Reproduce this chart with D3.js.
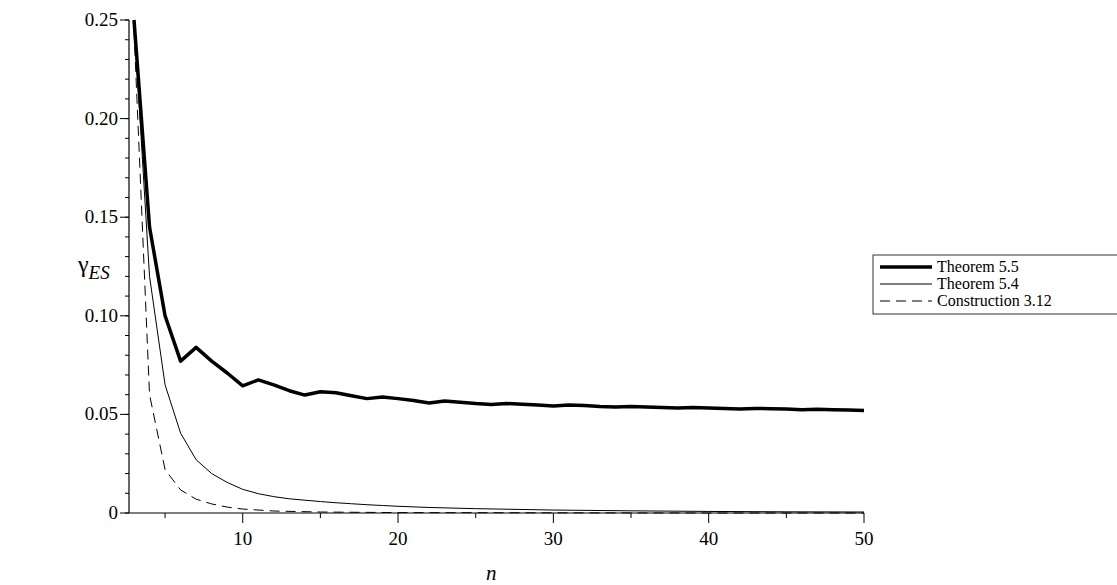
<!DOCTYPE html>
<html><head><meta charset="utf-8">
<script src="https://cdn.jsdelivr.net/npm/d3@7"></script>
<style>body{margin:0;background:#fff}</style>
</head><body><svg id="c" width="1117" height="585" font-family="'Liberation Serif', 'Times New Roman', 'DejaVu Serif', serif"></svg>
<script>
const nThm55 = d3.range(3,51);
const thm55 = [0.25,0.145,0.10,0.077,0.084,0.077,0.071,0.0645,0.0675,0.065,0.062,0.0598,0.0615,0.061,0.0595,0.058,0.0588,0.058,0.057,0.0558,0.0568,0.0562,0.0555,0.055,0.0555,0.0552,0.0548,0.0543,0.0548,0.0545,0.054,0.0537,0.054,0.0538,0.0535,0.0533,0.0535,0.0533,0.053,0.0528,0.053,0.0529,0.0527,0.0524,0.0526,0.0524,0.0522,0.052];
const nThm54 = [3,4,5,6,7,8,9,10,11,12,13,14,15,16,17,18,19,20,22,25,30,35,40,45,50];
const thm54 = [0.25,0.12,0.065,0.0405,0.027,0.020,0.0155,0.012,0.0098,0.0083,0.0072,0.0065,0.0058,0.0052,0.0047,0.0042,0.0038,0.0034,0.0028,0.0022,0.0015,0.0011,0.0008,0.0006,0.0005];
const nCon = [3,4,5,6,7,8,9,10,12,15,20,30,40,50];
const con312 = [0.245,0.06,0.022,0.0117,0.007,0.0046,0.003,0.002,0.001,0.0005,0.0002,0.0001,0,0];
const xTicks = [10,20,30,40,50];
const yTicks = [0,0.05,0.10,0.15,0.20,0.25];
const yTickLabels = ["0","0.05","0.10","0.15","0.20","0.25"];
const legendLabels = ["Theorem 5.5","Theorem 5.4","Construction 3.12"];

const svg = d3.select("#c");
const x = d3.scaleLinear().domain([3,50]).range([134,864]);
const y = d3.scaleLinear().domain([0,0.25]).range([513,20]);
const x0 = 129;

const gx = svg.append("g").attr("transform","translate(0,513)");
gx.append("line").attr("x1",x0).attr("x2",x(50)).attr("stroke","#000").attr("stroke-width",1.2);
gx.selectAll(".mj").data(xTicks).join("line").attr("x1",d=>x(d)).attr("x2",d=>x(d)).attr("y1",0).attr("y2",10).attr("stroke","#000");
gx.selectAll(".mn").data([5,15,25,35,45]).join("line").attr("x1",d=>x(d)).attr("x2",d=>x(d)).attr("y1",0).attr("y2",5).attr("stroke","#000");
gx.selectAll("text").data(xTicks).join("text").attr("x",d=>x(d)).attr("y",32).attr("text-anchor","middle").attr("font-size",19).text(d=>d);

const gy = svg.append("g").attr("transform",`translate(${x0},0)`);
gy.append("line").attr("y1",y(0)).attr("y2",y(0.25)).attr("stroke","#000").attr("stroke-width",1.2);
gy.selectAll(".mn").data(d3.range(0,0.2501,0.01)).join("line").attr("y1",d=>y(d)).attr("y2",d=>y(d)).attr("x1",-4).attr("x2",0).attr("stroke","#000");
gy.selectAll(".mj").data(yTicks).join("line").attr("y1",d=>y(d)).attr("y2",d=>y(d)).attr("x1",-9).attr("x2",0).attr("stroke","#000");
gy.selectAll("text").data(yTicks).join("text").attr("x",-11).attr("y",d=>y(d)+6).attr("text-anchor","end").attr("font-size",19).text((d,i)=>yTickLabels[i]);

svg.append("text").attr("x",x(26)).attr("y",580).attr("text-anchor","middle").attr("font-size",21).attr("font-style","italic").text("n");
const yl = svg.append("text").attr("x",78).attr("y",272).attr("font-size",24);
yl.append("tspan").text("γ");
yl.append("tspan").attr("dy",7).attr("font-size",19).attr("font-style","italic").text("ES");

const line = d3.line().x(d=>x(d[0])).y(d=>y(d[1]));
svg.append("clipPath").attr("id","cp").append("rect").attr("x",x0).attr("y",y(0.25)-2).attr("width",x(50)-x0+2).attr("height",y(0)-y(0.25)+4);
const g = svg.append("g").attr("clip-path","url(#cp)");
g.append("path").attr("d",line(nCon.map((n,i)=>[n,con312[i]]))).attr("fill","none").attr("stroke","#000").attr("stroke-width",1).attr("stroke-dasharray","10,6");
g.append("path").attr("d",line(nThm54.map((n,i)=>[n,thm54[i]]))).attr("fill","none").attr("stroke","#000").attr("stroke-width",1);
g.append("path").attr("d",line(nThm55.map((n,i)=>[n,thm55[i]]))).attr("fill","none").attr("stroke","#000").attr("stroke-width",3.5).attr("stroke-linejoin","round");

const lg = svg.append("g");
lg.append("rect").attr("x",873).attr("y",255).attr("width",250).attr("height",59).attr("fill","#fff").attr("stroke","#333");
const styles=[{w:3.5,d:null},{w:1,d:null},{w:1,d:"10,6"}];
legendLabels.forEach((t,i)=>{
  const yy=267+i*17;
  lg.append("line").attr("x1",880).attr("x2",932).attr("y1",yy).attr("y2",yy).attr("stroke","#000").attr("stroke-width",styles[i].w).attr("stroke-dasharray",styles[i].d);
  lg.append("text").attr("x",937).attr("y",yy+5).attr("font-size",16).text(t);
});
</script></body></html>
